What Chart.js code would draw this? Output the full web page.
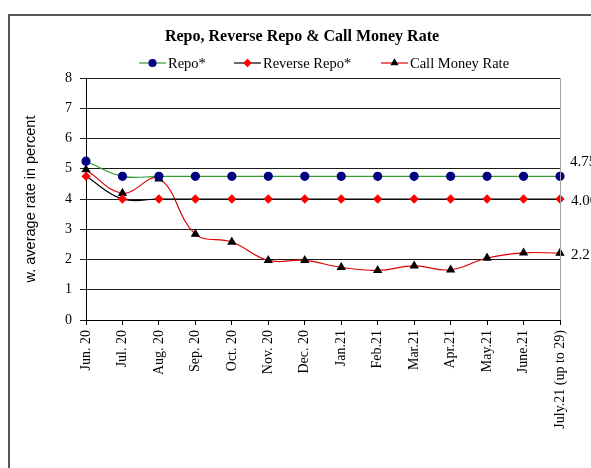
<!DOCTYPE html>
<html>
<head>
<meta charset="utf-8">
<script src="https://cdn.jsdelivr.net/npm/chart.js@4.4.1/dist/chart.umd.min.js"></script>
<style>
  html, body { margin: 0; padding: 0; background: #fff; }
  #wrap { width: 591px; height: 468px; }
</style>
</head>
<body>
<div id="wrap"><canvas id="chart"></canvas></div>
<script>
const months = ['Jun. 20', 'Jul. 20', 'Aug. 20', 'Sep. 20', 'Oct. 20', 'Nov. 20', 'Dec. 20',
  'Jan.21', 'Feb.21', 'Mar.21', 'Apr.21', 'May.21', 'June.21', 'July.21 (up to 29)'];
const repo = [5.25, 4.75, 4.75, 4.75, 4.75, 4.75, 4.75, 4.75, 4.75, 4.75, 4.75, 4.75, 4.75, 4.75];
const reverseRepo = [4.75, 4.00, 4.00, 4.00, 4.00, 4.00, 4.00, 4.00, 4.00, 4.00, 4.00, 4.00, 4.00, 4.00];
const callMoney = [4.97, 4.19, 4.67, 2.84, 2.58, 1.97, 1.97, 1.74, 1.64, 1.79, 1.66, 2.05, 2.22, 2.21];

const SERIF = "'Liberation Serif', 'Times New Roman', serif";
const SANS = "'Liberation Sans', Arial, sans-serif";

// title, legend, outer frame and end-of-line value labels
const decorations = {
    id: 'decorations',
    beforeDraw(chart) {
        const ctx = chart.ctx;
        ctx.save();
        ctx.strokeStyle = '#555';
        ctx.lineWidth = 2;
        ctx.strokeRect(9, 15, 1000, 1000);
        ctx.restore();
    },
    afterDraw(chart) {
        const ctx = chart.ctx;
        const area = chart.chartArea;
        ctx.save();

        // grey right edge of the plot area
        ctx.strokeStyle = '#a6a6a6';
        ctx.lineWidth = 1;
        ctx.beginPath();
        ctx.moveTo(Math.round(area.right) + 0.5, area.top);
        ctx.lineTo(Math.round(area.right) + 0.5, area.bottom);
        ctx.stroke();

        ctx.fillStyle = '#000';
        ctx.font = 'bold 16px ' + SERIF;
        ctx.textAlign = 'center';
        ctx.textBaseline = 'middle';
        ctx.fillText('Repo, Reverse Repo & Call Money Rate', 302, 37);

        // legend: short line with the marker in its middle
        ctx.font = '14.5px ' + SERIF;
        ctx.textAlign = 'left';
        const legendX = [139, 234, 381];
        const ly = 63;
        chart.data.datasets.forEach((ds, i) => {
            const x0 = legendX[i];
            ctx.strokeStyle = ds.borderColor;
            ctx.lineWidth = 1.2;
            ctx.beginPath();
            ctx.moveTo(x0, ly);
            ctx.lineTo(x0 + 27, ly);
            ctx.stroke();
            ctx.fillStyle = ds.pointBackgroundColor;
            ctx.strokeStyle = ds.pointBorderColor;
            Chart.helpers.drawPoint(ctx, {
                pointStyle: ds.pointStyle, radius: 3.5, rotation: 0, borderWidth: 1
            }, x0 + 13.5, ly);
            ctx.fillStyle = '#000';
            ctx.fillText(ds.label, x0 + 29, ly + 1);
        });

        // value of the last point of each series, right of the plot
        const y = chart.scales.y;
        ctx.font = '15px ' + SERIF;
        ctx.fillStyle = '#000';
        const last = repo.length - 1;
        const lx = area.right + 11;
        ctx.fillText(repo[last].toFixed(2), lx - 1, y.getPixelForValue(repo[last]) - 14);
        ctx.fillText(reverseRepo[last].toFixed(2), lx, y.getPixelForValue(reverseRepo[last]) + 2);
        ctx.fillText(callMoney[last].toFixed(2), lx, y.getPixelForValue(callMoney[last]) + 2);
        ctx.restore();
    }
};

new Chart(document.getElementById('chart'), {
    type: 'line',
    data: {
        labels: months,
        datasets: [
            {
                label: 'Repo*',
                data: repo,
                borderColor: '#339933',
                borderWidth: 1.2,
                pointStyle: 'circle',
                pointRadius: 4,
                pointBackgroundColor: '#000080',
                pointBorderColor: '#000080',
                tension: 0.4
            },
            {
                label: 'Reverse Repo*',
                data: reverseRepo,
                borderColor: '#000000',
                borderWidth: 1.2,
                pointStyle: 'rectRot',
                pointRadius: 3.8,
                pointBackgroundColor: '#ff0000',
                pointBorderColor: '#ff0000',
                tension: 0.4
            },
            {
                label: 'Call Money Rate',
                data: callMoney,
                borderColor: '#dd0000',
                borderWidth: 1.2,
                pointStyle: 'triangle',
                pointRadius: 4.2,
                pointBackgroundColor: '#000000',
                pointBorderColor: '#000000',
                tension: 0.4
            }
        ]
    },
    options: {
        responsive: true,
        maintainAspectRatio: false,
        animation: false,
        layout: { padding: { top: 78, right: 31, left: 0, bottom: 0 } },
        plugins: {
            legend: { display: false },
            title: { display: false },
            tooltip: { enabled: false }
        },
        scales: {
            x: {
                offset: false,
                afterFit(scale) { scale.height = 148; },
                grid: {
                    drawOnChartArea: false,
                    drawTicks: true,
                    tickLength: 5,
                    color: '#000'
                },
                border: { color: '#000', width: 1 },
                ticks: {
                    autoSkip: false,
                    minRotation: 90,
                    maxRotation: 90,
                    padding: 5,
                    color: '#000',
                    font: { family: SERIF, size: 14 }
                }
            },
            y: {
                min: 0,
                max: 8,
                afterFit(scale) { scale.width = 86; },
                title: {
                    display: true,
                    text: 'w. average rate in percent',
                    color: '#000',
                    padding: { top: 22, bottom: 0 },
                    font: { family: SANS, size: 14.5 }
                },
                grid: {
                    color: '#1a1a1a',
                    lineWidth: 1,
                    drawTicks: true,
                    tickLength: 6
                },
                border: { color: '#000', width: 1 },
                ticks: {
                    stepSize: 1,
                    padding: 8,
                    color: '#000',
                    font: { family: SERIF, size: 14 }
                }
            }
        }
    },
    plugins: [decorations]
});
</script>
</body>
</html>
